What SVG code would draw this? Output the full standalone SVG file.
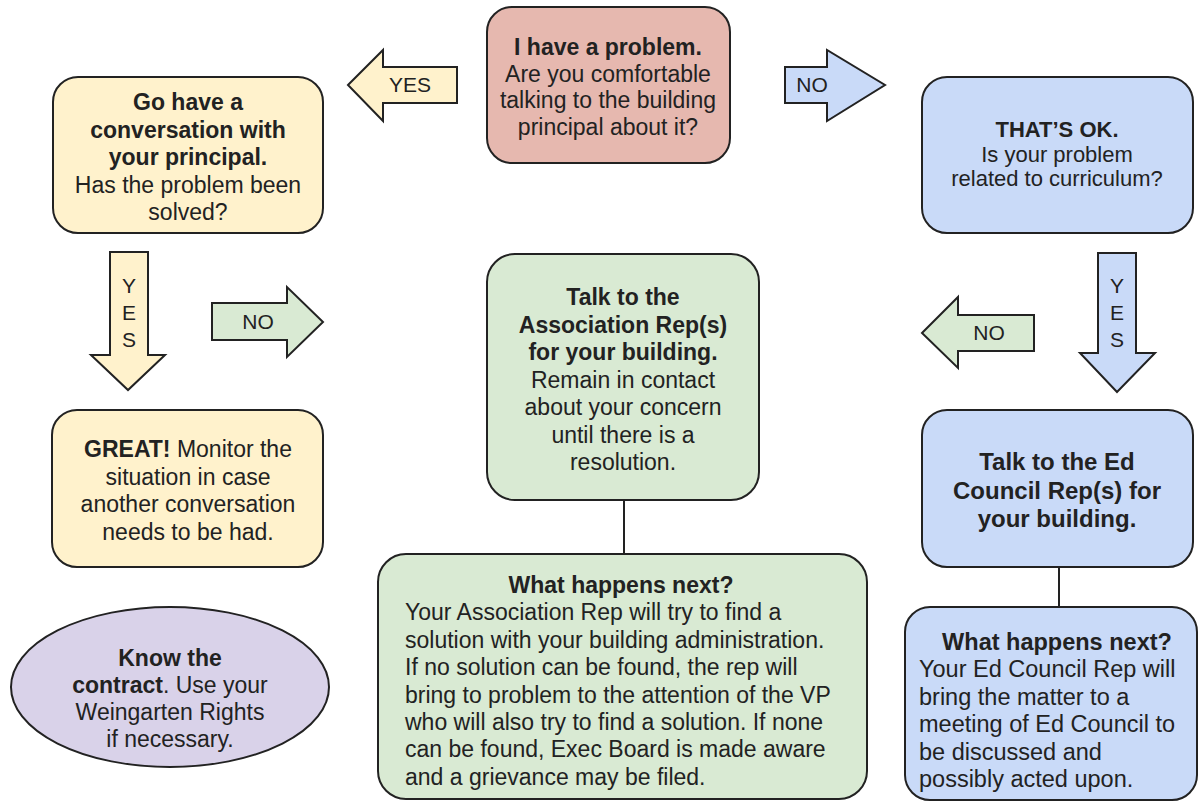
<svg xmlns="http://www.w3.org/2000/svg" width="1199" height="805" viewBox="0 0 1199 805">
<style>
.n{stroke:#222;stroke-width:2}
.y{fill:#fff2cc}.b{fill:#c9daf8}.g{fill:#d9ead3}.r{fill:#e6b8af}.p{fill:#d9d2e9}
text{font-family:"Liberation Sans",Arial,sans-serif;font-size:23px;fill:#222}
.a{font-size:21px}
.c{text-anchor:middle}
.bo{font-weight:bold}
.line{stroke:#222;stroke-width:2;fill:none}
</style>
<rect width="1199" height="805" fill="#fff"/>
<g id="connectors">
<line class="line" x1="624" y1="500" x2="624" y2="554"/>
<line class="line" x1="1059" y1="567" x2="1059" y2="607"/>
<g id="arrow-yes-top"><polygon class="n y" points="348,85 383,50 383,67 457,67 457,103 383,103 383,121"/><text class="c a" x="410" y="92">YES</text></g>
<g id="arrow-no-top"><polygon class="n b" points="785,67 827,67 827,50 885,85 827,121 827,103 785,103"/><text class="c a" x="812" y="92">NO</text></g>
<g id="arrow-yes-left"><polygon class="n y" points="110,252 148,252 148,355 165,355 128,390 91,355 110,355"/><text class="c a" x="129" y="293">Y</text><text class="c a" x="129" y="320">E</text><text class="c a" x="129" y="347">S</text></g>
<g id="arrow-no-left"><polygon class="n g" points="212,303 287,303 287,287 323,322 287,357 287,340 212,340"/><text class="c a" x="258" y="329">NO</text></g>
<g id="arrow-no-right"><polygon class="n g" points="922,333 958,297 958,315 1034,315 1034,351 958,351 958,368"/><text class="c a" x="989" y="340">NO</text></g>
<g id="arrow-yes-right"><polygon class="n b" points="1098,253 1136,253 1136,353 1155,353 1117,392 1080,353 1098,353"/><text class="c a" x="1117" y="293">Y</text><text class="c a" x="1117" y="320">E</text><text class="c a" x="1117" y="347">S</text></g>
</g>
<g id="start">
<rect class="n r" x="487" y="7" width="243" height="156" rx="25"/>
<text class="c" x="608" y="55"><tspan class="bo">I have a problem.</tspan><tspan x="608" dy="26.5">Are you comfortable</tspan><tspan x="608" dy="26.5">talking to the building</tspan><tspan x="608" dy="26.5">principal about it?</tspan></text>
</g>
<g id="principal">
<rect class="n y" x="53" y="77" width="270" height="156" rx="25"/>
<text class="c" x="188" y="110"><tspan class="bo">Go have a</tspan><tspan x="188" dy="27.5" class="bo">conversation with</tspan><tspan x="188" dy="27.5" class="bo">your principal.</tspan><tspan x="188" dy="27.5">Has the problem been</tspan><tspan x="188" dy="27.5">solved?</tspan></text>
</g>
<g id="thats-ok">
<rect class="n b" x="922" y="77" width="271" height="156" rx="25"/>
<text class="c" x="1057" y="137" style="font-size:22px"><tspan class="bo">THAT’S OK.</tspan><tspan x="1057" dy="24.5">Is your problem</tspan><tspan x="1057" dy="24.5">related to curriculum?</tspan></text>
</g>
<g id="great">
<rect class="n y" x="52" y="410" width="271" height="157" rx="25"/>
<text class="c" x="188" y="457"><tspan class="bo">GREAT!</tspan>  Monitor the<tspan x="188" dy="27.5">situation in case</tspan><tspan x="188" dy="27.5">another conversation</tspan><tspan x="188" dy="27.5">needs to be had.</tspan></text>
</g>
<g id="assoc-rep">
<rect class="n g" x="487" y="254" width="272" height="246" rx="28"/>
<text class="c" x="623" y="305"><tspan class="bo">Talk to the</tspan><tspan x="623" dy="27.5" class="bo">Association Rep(s)</tspan><tspan x="623" dy="27.5" class="bo">for your building.</tspan><tspan x="623" dy="27.5">Remain in contact</tspan><tspan x="623" dy="27.5">about your concern</tspan><tspan x="623" dy="27.5">until there is a</tspan><tspan x="623" dy="27.5">resolution.</tspan></text>
</g>
<g id="ed-council-rep">
<rect class="n b" x="922" y="410" width="271" height="157" rx="25"/>
<text class="c bo" x="1057" y="470" style="font-size:24px"><tspan>Talk to the Ed</tspan><tspan x="1057" dy="28.5">Council Rep(s) for</tspan><tspan x="1057" dy="28.5">your building.</tspan></text>
</g>
<g id="contract">
<ellipse class="n p" cx="170" cy="687" rx="159" ry="80"/>
<text class="c" x="170" y="666"><tspan class="bo">Know the</tspan><tspan x="170" dy="27"><tspan class="bo">contract</tspan>. Use your</tspan><tspan x="170" dy="27">Weingarten Rights</tspan><tspan x="170" dy="27">if necessary.</tspan></text>
</g>
<g id="assoc-next">
<rect class="n g" x="378" y="554" width="489" height="245" rx="28"/>
<text x="405" y="593"><tspan class="bo" x="621" text-anchor="middle">What happens next?</tspan><tspan x="405" dy="27.4">Your Association Rep will try to find a</tspan><tspan x="405" dy="27.4">solution with your building administration.</tspan><tspan x="405" dy="27.4">If no solution can be found, the rep will</tspan><tspan x="405" dy="27.4">bring to problem to the attention of the VP</tspan><tspan x="405" dy="27.4">who will also try to find a solution. If none</tspan><tspan x="405" dy="27.4">can be found, Exec Board is made aware</tspan><tspan x="405" dy="27.4">and a grievance may be filed.</tspan></text>
</g>
<g id="ed-next">
<rect class="n b" x="905" y="607" width="292" height="193" rx="25"/>
<text x="919" y="650" style="font-size:23.5px"><tspan class="bo" x="1057" text-anchor="middle">What happens next?</tspan><tspan x="919" dy="27.4">Your Ed Council Rep will</tspan><tspan x="919" dy="27.4">bring the matter to a</tspan><tspan x="919" dy="27.4">meeting of Ed Council to</tspan><tspan x="919" dy="27.4">be discussed and</tspan><tspan x="919" dy="27.4">possibly acted upon.</tspan></text>
</g>
</svg>
